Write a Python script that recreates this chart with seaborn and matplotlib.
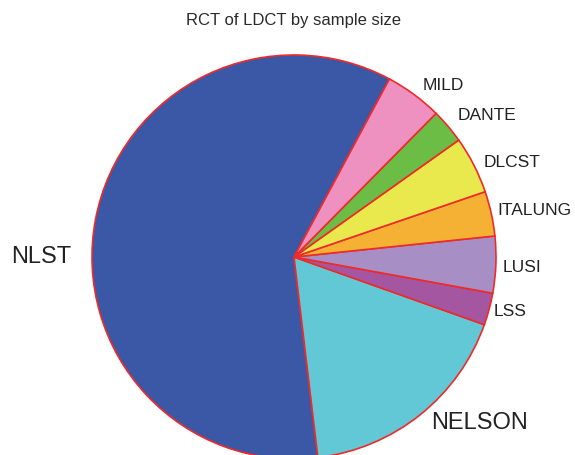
import matplotlib
matplotlib.use("Agg")
import matplotlib.pyplot as plt
import seaborn as sns

# Randomised controlled trials of low-dose CT screening, by number of participants
trials = ["NLST", "NELSON", "LSS", "LUSI", "ITALUNG", "DLCST", "DANTE", "MILD"]
sample_sizes = [53454, 15822, 2300, 4052, 3206, 4104, 2472, 4099]
slice_colors = ["#3a58a6", "#63c8d5", "#a457a0", "#a78fc5",
                "#f5b133", "#e9e84d", "#6bbd46", "#ef91c0"]

# Label anchor offsets (in units of the pie radius) and font sizes
label_offsets = {
    "NLST": (-1.25, 0.0), "NELSON": (0.92, -0.82), "LSS": (1.07, -0.27),
    "LUSI": (1.13, -0.05), "ITALUNG": (1.19, 0.23), "DLCST": (1.08, 0.47),
    "DANTE": (0.955, 0.70), "MILD": (0.74, 0.85),
}
large_labels = {"NLST", "NELSON"}

sns.set_style("white")
plt.rcParams["font.family"] = ["Liberation Sans", "DejaVu Sans"]
palette = sns.color_palette(slice_colors)

W, H = 575, 455
fig = plt.figure(figsize=(W / 100, H / 100), dpi=100)
ax = fig.add_axes([0, 0, 1, 1])

R = 202.0
cx, cy = 294.0, 257.0
ax.pie(sample_sizes, colors=palette, startangle=61.8, counterclock=True,
       radius=R, center=(0, 0),
       wedgeprops=dict(edgecolor="#ee2a2a", linewidth=1.2))

for name in trials:
    dx, dy = label_offsets[name]
    size = 17 if name in large_labels else 12.5
    ax.text(dx * R, dy * R, name, ha="center", va="center",
            fontsize=size, color="#222222")

ax.set_xlim(-cx, W - cx)
ax.set_ylim(-(H - cy), cy)
ax.set_aspect("equal")
ax.axis("off")

fig.text(294 / W, 1 - 20 / H, "RCT of LDCT by sample size",
         ha="center", va="center", fontsize=12, color="#2a2a2a")

fig.savefig("out.png", dpi=100)
